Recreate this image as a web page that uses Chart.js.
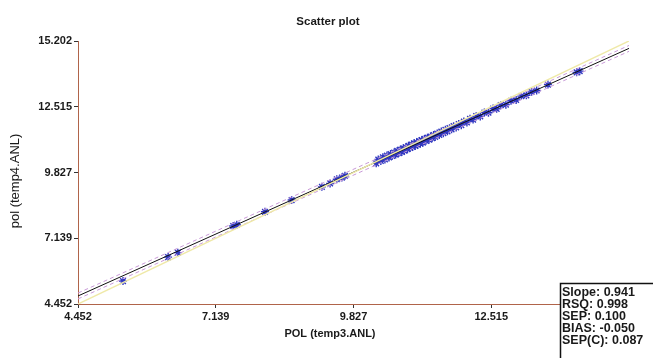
<!DOCTYPE html>
<html>
<head>
<meta charset="utf-8">
<script src="https://cdn.jsdelivr.net/npm/chart.js@4.4.1/dist/chart.umd.min.js"></script>
<style>
  body { margin: 0; background: #fff; }
  canvas { display: block; }
</style>
</head>
<body>
<canvas id="myChart" width="653" height="358"></canvas>
<script>
// tick values shared by both axes
const axisTicks = [4.452, 7.139, 9.827, 12.515, 15.202]

// measured samples (x = temp3, y = temp4)
const polX = [5.33, 6.21, 6.40, 7.48, 7.55, 8.10, 8.62, 9.21, 9.37, 9.50, 9.60, 9.66,
  10.27, 10.31, 10.36, 10.40, 10.44, 10.48, 10.52, 10.55, 10.58, 10.62, 10.65, 10.68,
  10.71, 10.74, 10.77, 10.80, 10.82, 10.85, 10.88, 10.90, 10.93, 10.96, 10.98, 11.01,
  11.03, 11.06, 11.08, 11.11, 11.13, 11.16, 11.18, 11.21, 11.24, 11.27, 11.30, 11.33,
  11.36, 11.39, 11.42, 11.46, 11.50, 11.54, 11.58, 11.62, 11.66, 11.70, 11.74, 11.78,
  11.83, 11.88, 11.93, 11.98, 12.04, 12.10, 12.16, 12.22, 12.30, 12.38, 12.46, 12.55,
  12.62, 12.70, 12.80, 12.90, 13.00, 13.10, 13.20, 13.30, 13.40, 13.62, 14.18, 14.24]
const polY = [5.39, 6.37, 6.55, 7.64, 7.69, 8.22, 8.70, 9.24, 9.38, 9.55, 9.62, 9.69,
  10.20, 10.36, 10.30, 10.45, 10.36, 10.52, 10.44, 10.58, 10.50, 10.64, 10.56, 10.71,
  10.62, 10.76, 10.67, 10.82, 10.72, 10.86, 10.78, 10.92, 10.83, 10.97, 10.87, 11.02,
  10.91, 11.06, 10.96, 11.11, 11.01, 11.15, 11.05, 11.20, 11.12, 11.25, 11.17, 11.30,
  11.23, 11.36, 11.28, 11.42, 11.36, 11.50, 11.43, 11.57, 11.51, 11.64, 11.59, 11.72,
  11.67, 11.81, 11.76, 11.91, 11.87, 12.02, 11.99, 12.13, 12.12, 12.28, 12.27, 12.44,
  12.43, 12.58, 12.60, 12.76, 12.79, 12.95, 12.98, 13.12, 13.18, 13.42, 13.92, 13.97]

// fitted line, its band and the 1:1 line (end points)
const lineX = [4.452, 15.202]
const fitY = [4.78, 14.90]
const upperY = [4.90, 15.02]
const lowerY = [4.66, 14.78]
const identityY = [4.452, 15.202]

const stats = ['Slope: 0.941', 'RSQ: 0.998', 'SEP: 0.100', 'BIAS: -0.050', 'SEP(C): 0.087']

function pairs(xs, ys) {
    return xs.map((x, i) => ({ x: x, y: ys[i] }))
}

const textPlugin = {
    id: 'texts',
    afterDraw(chart) {
        const ctx = chart.ctx
        ctx.save()
        ctx.fillStyle = '#1a1a1a'
        ctx.textAlign = 'center'
        ctx.textBaseline = 'middle'
        ctx.font = 'bold 11.5px Arial, "Liberation Sans", sans-serif'
        ctx.fillText('Scatter plot', 328, 22)
        ctx.font = 'bold 11px Arial, "Liberation Sans", sans-serif'
        ctx.fillText('POL (temp3.ANL)', 330, 334)

        ctx.save()
        ctx.translate(15, 181)
        ctx.rotate(-Math.PI / 2)
        ctx.font = '13px Arial, "Liberation Sans", sans-serif'
        ctx.fillText('pol (temp4.ANL)', 0, 0)
        ctx.restore()

        // stats box
        ctx.fillStyle = '#fff'
        ctx.fillRect(560, 283, 100, 80)
        ctx.strokeStyle = '#111'
        ctx.lineWidth = 1.5
        ctx.strokeRect(560.5, 283.5, 100, 80)
        ctx.fillStyle = '#1a1a1a'
        ctx.textAlign = 'left'
        ctx.font = 'bold 12.5px Arial, "Liberation Sans", sans-serif'
        stats.forEach((s, i) => {
            ctx.fillText(s, 562, 293 + i * 11.8)
        })
        ctx.restore()
    }
}

function axis(fit) {
    return {
        type: 'linear',
        min: axisTicks[0],
        max: axisTicks[axisTicks.length - 1],
        afterBuildTicks: s => { s.ticks = axisTicks.map(v => ({ value: v })) },
        afterFit: fit,
        border: { display: true, color: '#b0644a', width: 1 },
        grid: { drawOnChartArea: false, drawTicks: true, tickLength: 4, color: '#333' },
        ticks: {
            color: '#1a1a1a',
            font: { family: 'Arial, "Liberation Sans", sans-serif', size: 11, weight: 'bold' },
            padding: 2,
            maxRotation: 0,
            autoSkip: false,
            callback: v => Number(v).toFixed(3)
        }
    }
}

const ctx = document.getElementById('myChart').getContext('2d')
const chart = new Chart(ctx, {
    type: 'scatter',
    data: {
        datasets: [
            {
                label: 'identity',
                type: 'line',
                data: pairs(lineX, identityY),
                borderColor: '#efe9a8',
                borderWidth: 1.5,
                pointRadius: 0
            },
            {
                label: 'upper',
                type: 'line',
                data: pairs(lineX, upperY),
                borderColor: '#c99ad8',
                borderWidth: 1,
                borderDash: [4, 3],
                pointRadius: 0
            },
            {
                label: 'lower',
                type: 'line',
                data: pairs(lineX, lowerY),
                borderColor: '#c99ad8',
                borderWidth: 1,
                borderDash: [4, 3],
                pointRadius: 0
            },
            {
                label: 'fit',
                type: 'line',
                data: pairs(lineX, fitY),
                borderColor: '#111',
                borderWidth: 1,
                pointRadius: 0
            },
            {
                label: 'samples',
                data: pairs(polX, polY),
                pointStyle: 'star',
                pointRadius: 4,
                borderColor: '#3038c0',
                backgroundColor: '#3038c0',
                borderWidth: 1.4
            }
        ]
    },
    options: {
        responsive: false,
        animation: false,
        layout: { padding: { left: 0, right: 24, top: 41, bottom: 0 } },
        plugins: {
            legend: { display: false },
            title: { display: false },
            tooltip: { enabled: false }
        },
        scales: {
            x: axis(s => { s.height = 54 }),
            y: axis(s => { s.width = 78 })
        }
    },
    plugins: [textPlugin]
})
</script>
</body>
</html>
